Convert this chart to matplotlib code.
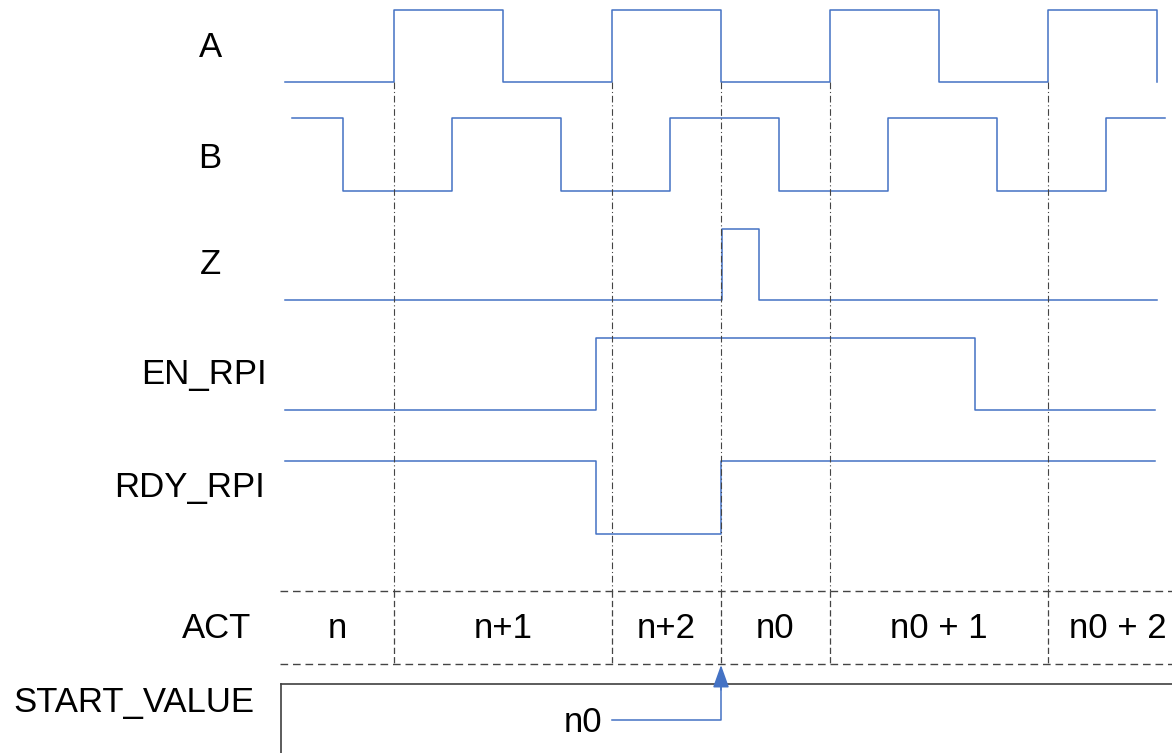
import numpy as np
import matplotlib
matplotlib.use("Agg")
from matplotlib import pyplot as plt

plt.rcParams['font.family'] = ['Liberation Sans', 'DejaVu Sans']

# time in units of a half period of A (t = 0 where the traces start)
sig_names = ["A", "B", "Z", "EN_RPI", "RDY_RPI"]
sig_start = [0.0, 0.064, 0.0, 0.0, 0.0]
sig_init = [0, 1, 0, 0, 1]
sig_edges = [
    [1, 2, 3, 4, 5, 6, 7, 8],
    [0.53, 1.53, 2.53, 3.53, 4.53, 5.53, 6.53, 7.53],
    [4.01, 4.35],
    [2.85, 6.33],
    [2.85, 4.0],
]
sig_end = [8.0, 8.07, 8.0, 7.98, 7.98]

marks = [1, 3, 4, 5, 7]  # dashed cycle markers
act_bounds = [-0.046, 1, 3, 4, 5, 7, 8.28]
act_labels = ["n", "n+1", "n+2", "n0", "n0 + 1", "n0 + 2"]
start_value_time = 4.0
start_value_label = "n0"

# layout (pixel rows, y grows downward)
W, H = 1172, 753
T0, UNIT = 285, 109
rows = [(10, 82), (118, 191), (229, 300), (338, 410), (461, 534)]
label_pos = [(210, 57), (210, 168), (210, 274), (204, 384), (189, 497)]
blue = "#4472C4"
grey = "#444444"
fs = 25


def step_path(start, init, edges, end):
    xs, ys = [start], [init]
    lvl = init
    for e in edges:
        xs += [e, e]
        ys += [lvl, 1 - lvl]
        lvl = 1 - lvl
    if end > edges[-1]:
        xs.append(end)
        ys.append(lvl)
    return np.array(xs), np.array(ys)


def px(x):
    return (x - T0) / UNIT


fig = plt.figure(figsize=(W / 100, H / 100), dpi=100)
ax = fig.add_axes([0, 0, 1, 1])
ax.set_xlim(px(0), px(W))
ax.set_ylim(H, 0)
ax.axis("off")

for name, st, ini, ed, en, (hi, lo), (lx, ly) in zip(
        sig_names, sig_start, sig_init, sig_edges, sig_end, rows, label_pos):
    xs, ys = step_path(st, ini, ed, en)
    ax.plot(xs, lo + (hi - lo) * ys, color=blue, lw=1.1)
    ax.text(px(lx), ly, name, fontsize=fs, ha="center", va="baseline")

# cycle markers
act_top, act_bot = 591, 664
for m in marks:
    ax.plot([m, m], [82, act_top], color=grey, lw=0.8, dashes=(6, 2.5, 1, 2.5))
    ax.plot([m, m], [act_top, act_bot], color=grey, lw=0.9, dashes=(5, 2.5))

# ACT row
ax.plot([act_bounds[0], px(W)], [act_top, act_top], color=grey, lw=1, dashes=(5.5, 3.5))
ax.plot([act_bounds[0], px(W)], [act_bot, act_bot], color=grey, lw=1, dashes=(5.5, 3.5))
for i, lab in enumerate(act_labels):
    xc = (act_bounds[i] + act_bounds[i + 1]) / 2
    ax.text(xc, 638, lab, fontsize=fs, ha="center", va="baseline")
ax.text(px(217), 638, "ACT", fontsize=fs, ha="center", va="baseline")

# START_VALUE box
box_left, box_top = px(281), 684
ax.plot([box_left, px(W + 10)], [box_top, box_top], color="#404040", lw=1.2)
ax.plot([box_left, box_left], [box_top, H + 10], color="#404040", lw=1.2)
ax.text(px(134), 712, "START_VALUE", fontsize=fs, ha="center", va="baseline")

# n0 -> load arrow
ax.text(px(583), 732, start_value_label, fontsize=fs, ha="center", va="baseline")
ax.plot([start_value_time - 1, start_value_time, start_value_time], [720, 720, 684],
        color=blue, lw=1.1)
ax.annotate("", xy=(start_value_time, act_bot + 1), xytext=(start_value_time, 690),
            arrowprops=dict(arrowstyle="-|>,head_length=1.4,head_width=0.5",
                            color=blue, lw=1.1, mutation_scale=10,
                            shrinkA=0, shrinkB=0))

fig.savefig("out.png", dpi=100)
